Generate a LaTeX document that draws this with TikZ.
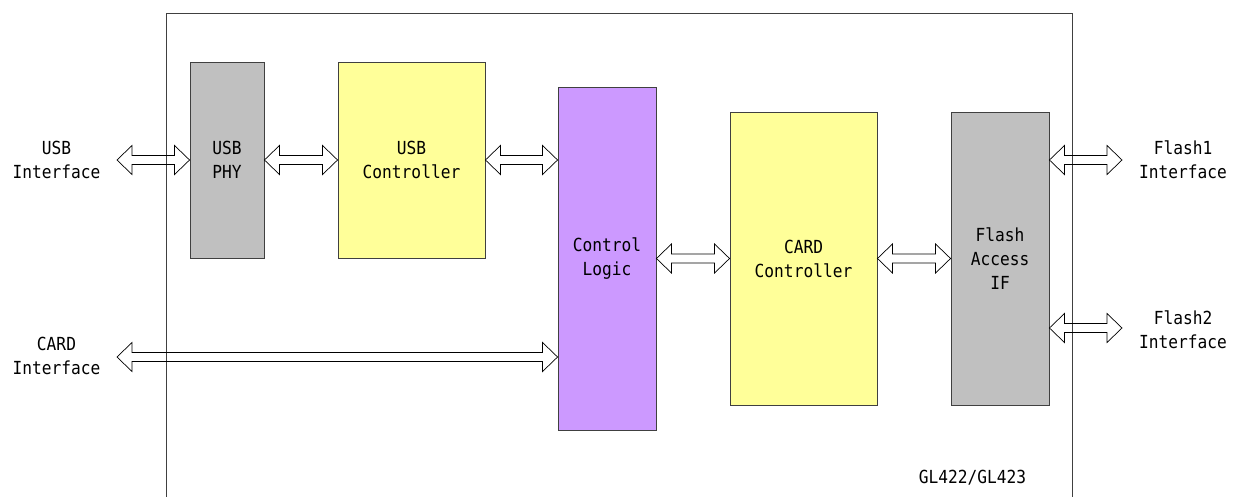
\documentclass[tikz,border=0pt]{standalone}
\usepackage{fontspec}
\setmonofont[FakeStretch=0.9]{DejaVu Sans Mono}
\usetikzlibrary{math, calc}
\definecolor{phygray}{HTML}{C0C0C0}
\definecolor{ctrlyellow}{HTML}{FFFF99}
\definecolor{logicpurple}{HTML}{CC99FF}
\tikzset{
  blk/.style={draw=black!75, line width=0.9pt, inner sep=0pt, align=center},
  lbl/.style={inner sep=0pt, align=center},
  bus/.style={draw=black, line width=0.7pt, to path={
      let \p1=(\tikztostart), \p2=(\tikztotarget) in
      (\x1,\y1) -- (\x1+\hl pt,\y1+\hw pt) -- (\x1+\hl pt,\y1+\sw pt)
      -- (\x2-\hl pt,\y1+\sw pt) -- (\x2-\hl pt,\y1+\hw pt) -- (\x2,\y1)
      -- (\x2-\hl pt,\y1-\hw pt) -- (\x2-\hl pt,\y1-\sw pt)
      -- (\x1+\hl pt,\y1-\sw pt) -- (\x1+\hl pt,\y1-\hw pt) -- cycle}}
}

\begin{document}
\begin{tikzpicture}[x=1pt, y=-1pt, font=\ttfamily\fontsize{18}{24}\selectfont]
          \tikzmath{
            \hl=15;
            \hw=14.5;
            \sw=4.5;}
          \useasboundingbox (0,0) rectangle (1240,497);
          \draw[black!75, line width=1pt] (166,500) -- (166,14) -- (1072,14) -- (1072,500);
          \node[blk, fill=phygray, minimum width=74, minimum height=196] (phy) at (227,160) {USB\\PHY};
          \node[blk, fill=ctrlyellow, minimum width=147, minimum height=196] (usbc) at (411.5,160) {USB\\Controller};
          \node[blk, fill=logicpurple, minimum width=98, minimum height=343] (ctrl) at (607,258.5) {Control\\Logic};
          \node[blk, fill=ctrlyellow, minimum width=147, minimum height=293] (card) at (803.5,258.5) {CARD\\Controller};
          \node[blk, fill=phygray, minimum width=98, minimum height=293] (flash) at (1000,258.5) {Flash\\Access\\IF};
          \node[lbl] (usbtxt) at (56.5,160) {USB\\Interface};
          \node[lbl] (cardtxt) at (56.5,356) {CARD\\Interface};
          \node[lbl] (fl1txt) at (1183,160) {Flash1\\Interface};
          \node[lbl] (fl2txt) at (1183,330) {Flash2\\Interface};
          \node[lbl] (chip) at (972.5,478) {GL422/GL423};
          \coordinate (usbif) at (117,160);
          \coordinate (cardif) at (117,357);
          \coordinate (flif1) at (1122,160);
          \coordinate (flif2) at (1122,328);
          \draw[bus] (usbif) to (phy.west);
          \draw[bus] (phy.east) to (usbc.west);
          \draw[bus] (usbc.east) to (usbc.east -| ctrl.west);
          \draw[bus] (cardif) to (cardif -| ctrl.west);
          \draw[bus] (ctrl.east) to (card.west);
          \draw[bus] (card.east) to (flash.west);
          \draw[bus] (flash.east |- flif1) to (flif1);
          \draw[bus] (flash.east |- flif2) to (flif2);
        \end{tikzpicture}
\end{document}
